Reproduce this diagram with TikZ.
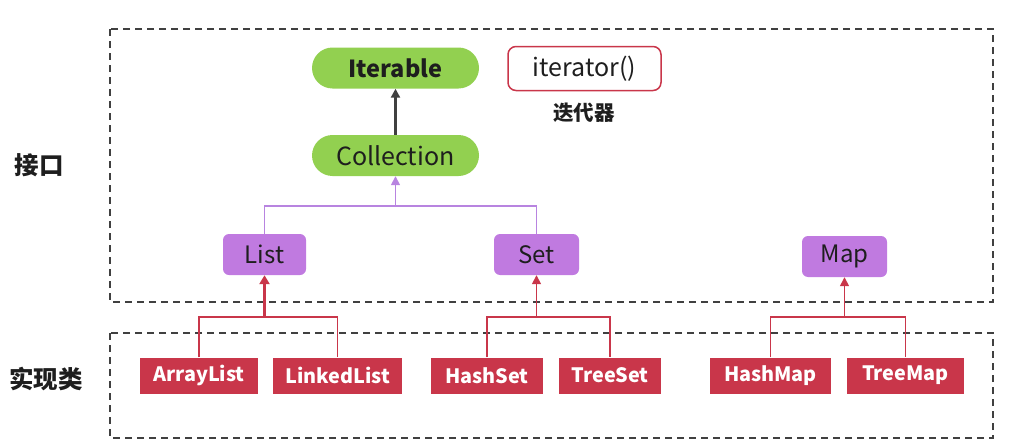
\documentclass[tikz,border=0pt]{standalone}
\usepackage{fontspec}
\setmainfont{Noto Sans CJK SC}
\usetikzlibrary{arrows.meta}
\definecolor{grn}{HTML}{92D050}
\definecolor{pur}{HTML}{C07AE0}
\definecolor{purline}{HTML}{B884E0}
\definecolor{rd}{HTML}{C9364A}
\definecolor{dk}{HTML}{404040}
\definecolor{txt}{HTML}{1E1E1E}
\tikzset{
  frame/.style={draw=dk, line width=1.4pt, dash pattern=on 7pt off 5pt},
  greenbox/.style={fill=grn, rounded corners=20.5pt, minimum width=167pt, minimum height=41pt, inner sep=0pt, text=txt, font=\fontsize{25}{28}\selectfont},
  purbox/.style={fill=pur, rounded corners=6pt, minimum height=41pt, inner sep=0pt, text=txt, font=\fontsize{24}{28}\selectfont},
  redbox/.style={fill=rd, minimum height=36pt, inner sep=0pt, text=white, font=\bfseries\fontsize{19.8}{23}\selectfont},
  label/.style={text=txt, font=\bfseries\fontsize{24.5}{28}\selectfont},
  purl/.style={draw=purline, line width=1.5pt},
  redl/.style={draw=rd, line width=1.5pt},
}
\begin{document}
\begin{tikzpicture}[x=1pt,y=-1pt]
\useasboundingbox (0,0) rectangle (1017,447);
% frames
\draw[frame] (110,29) rectangle (993,302);
\draw[frame] (110,333) rectangle (993,438);
% side labels
\node[label] (lbI) at (39,165) {接口};
\node[label] (lbS) at (46,379) {实现类};
% interfaces
\node[greenbox, font=\bfseries\fontsize{23.5}{26}\selectfont] (iter) at (395.5,68) {Iterable};
\node[greenbox] (coll) at (395.5,155.5) {Collection};
\node[draw=rd, line width=1.5pt, fill=white, rounded corners=8pt, minimum width=153pt, minimum height=44pt, inner sep=0pt, text=txt, font=\fontsize{25}{28}\selectfont] (itf) at (584.5,68.5) {iterator()};
\node[text=txt, font=\bfseries\fontsize{20.5}{24}\selectfont] (itcn) at (584,113) {迭代器};
\node[purbox, minimum width=83pt] (list) at (264.5,254.5) {List};
\node[purbox, minimum width=85pt] (set) at (536.5,254.5) {Set};
\node[purbox, minimum width=85pt] (map) at (844.5,256.5) {Map};
% implementations
\node[redbox, minimum width=118pt] (al) at (199,375.5) {ArrayList};
\node[redbox, minimum width=129pt] (ll) at (337.5,375.5) {LinkedList};
\node[redbox, minimum width=112pt] (hs) at (487,375.5) {HashSet};
\node[redbox, minimum width=102pt] (ts) at (610,375.5) {TreeSet};
\node[redbox, minimum width=121pt] (hm) at (770.5,375.5) {HashMap};
\node[redbox, minimum width=117pt] (tm) at (905.5,375.5) {TreeMap};
% junctions
\coordinate (jc) at (395.5,206);
\coordinate (jl) at (264.5,317);
\coordinate (js) at (536.5,317);
\coordinate (jm) at (844.5,317);
% connectors
\draw[draw=dk, line width=2.2pt, -{Triangle[width=9pt,length=9pt]}] (coll.north) -- (iter.south);
\draw[purl] (list.north) |- (jc) -| (set.north);
\draw[purl, -{Triangle[width=9pt,length=9pt]}] (jc) -- (coll.south);
\draw[redl] (al.north) |- (jl) -| (ll.north);
\draw[draw=rd, line width=2.6pt, -{Triangle[width=10pt,length=9pt]}] (jl) -- (list.south);
\draw[redl] (hs.north) |- (js) -| (ts.north);
\draw[redl, -{Triangle[width=9pt,length=9pt]}] (js) -- (set.south);
\draw[redl] (hm.north) |- (jm) -| (tm.north);
\draw[redl, -{Triangle[width=9pt,length=9pt]}] (jm) -- (map.south);
\end{tikzpicture}
\end{document}
